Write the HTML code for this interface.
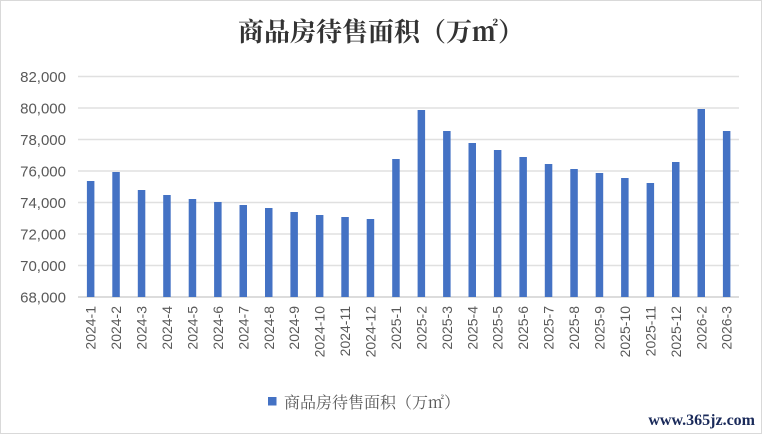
<!DOCTYPE html>
<html><head><meta charset="utf-8"><style>
body{margin:0;background:#fff}
svg{display:block}
</style></head><body>
<svg width="762" height="434" xmlns="http://www.w3.org/2000/svg">
<rect x="0.5" y="0.5" width="761" height="433" fill="#fff" stroke="#d9d9d9"/>
<text x="381" y="41" text-anchor="middle" font-family="Noto Serif CJK SC, serif" font-size="26" font-weight="bold" fill="#333">商品房待售面积（万㎡）</text>
<g stroke="#e0e0e0" stroke-width="1.5">
<line x1="78" x2="739" y1="76.5" y2="76.5"/><line x1="78" x2="739" y1="108" y2="108"/><line x1="78" x2="739" y1="139.5" y2="139.5"/><line x1="78" x2="739" y1="171" y2="171"/><line x1="78" x2="739" y1="202.5" y2="202.5"/><line x1="78" x2="739" y1="234" y2="234"/><line x1="78" x2="739" y1="265.5" y2="265.5"/>
</g>
<line x1="78" x2="739" y1="297" y2="297" stroke="#d0d0d0" stroke-width="1.5"/>
<g font-family="Liberation Sans, sans-serif" font-size="15" fill="#595959" text-anchor="end">
<text x="66" y="82">82,000</text><text x="66" y="113.5">80,000</text><text x="66" y="145">78,000</text><text x="66" y="176.5">76,000</text><text x="66" y="208">74,000</text><text x="66" y="239.5">72,000</text><text x="66" y="271">70,000</text><text x="66" y="302.5">68,000</text>
</g>
<g fill="#4472c4">
<rect x="86.9" y="181" width="7.5" height="116"/>
<rect x="112.3" y="172" width="7.5" height="125"/>
<rect x="137.8" y="190" width="7.5" height="107"/>
<rect x="163.2" y="195" width="7.5" height="102"/>
<rect x="188.7" y="199" width="7.5" height="98"/>
<rect x="214.1" y="202" width="7.5" height="95"/>
<rect x="239.5" y="205" width="7.5" height="92"/>
<rect x="265.0" y="208" width="7.5" height="89"/>
<rect x="290.4" y="212" width="7.5" height="85"/>
<rect x="315.9" y="215" width="7.5" height="82"/>
<rect x="341.3" y="217" width="7.5" height="80"/>
<rect x="366.7" y="219" width="7.5" height="78"/>
<rect x="392.2" y="159" width="7.5" height="138"/>
<rect x="417.6" y="110" width="7.5" height="187"/>
<rect x="443.1" y="131" width="7.5" height="166"/>
<rect x="468.5" y="143" width="7.5" height="154"/>
<rect x="493.9" y="150" width="7.5" height="147"/>
<rect x="519.4" y="157" width="7.5" height="140"/>
<rect x="544.8" y="164" width="7.5" height="133"/>
<rect x="570.3" y="169" width="7.5" height="128"/>
<rect x="595.7" y="173" width="7.5" height="124"/>
<rect x="621.1" y="178" width="7.5" height="119"/>
<rect x="646.6" y="183" width="7.5" height="114"/>
<rect x="672.0" y="162" width="7.5" height="135"/>
<rect x="697.5" y="109" width="7.5" height="188"/>
<rect x="722.9" y="131" width="7.5" height="166"/>
</g>
<g font-family="Liberation Sans, sans-serif" font-size="14" fill="#595959" text-anchor="end">
<text transform="translate(95.7,306) rotate(-90)">2024-1</text>
<text transform="translate(121.1,306) rotate(-90)">2024-2</text>
<text transform="translate(146.6,306) rotate(-90)">2024-3</text>
<text transform="translate(172.0,306) rotate(-90)">2024-4</text>
<text transform="translate(197.5,306) rotate(-90)">2024-5</text>
<text transform="translate(222.9,306) rotate(-90)">2024-6</text>
<text transform="translate(248.3,306) rotate(-90)">2024-7</text>
<text transform="translate(273.8,306) rotate(-90)">2024-8</text>
<text transform="translate(299.2,306) rotate(-90)">2024-9</text>
<text transform="translate(324.7,306) rotate(-90)">2024-10</text>
<text transform="translate(350.1,306) rotate(-90)">2024-11</text>
<text transform="translate(375.5,306) rotate(-90)">2024-12</text>
<text transform="translate(401.0,306) rotate(-90)">2025-1</text>
<text transform="translate(426.4,306) rotate(-90)">2025-2</text>
<text transform="translate(451.9,306) rotate(-90)">2025-3</text>
<text transform="translate(477.3,306) rotate(-90)">2025-4</text>
<text transform="translate(502.7,306) rotate(-90)">2025-5</text>
<text transform="translate(528.2,306) rotate(-90)">2025-6</text>
<text transform="translate(553.6,306) rotate(-90)">2025-7</text>
<text transform="translate(579.1,306) rotate(-90)">2025-8</text>
<text transform="translate(604.5,306) rotate(-90)">2025-9</text>
<text transform="translate(629.9,306) rotate(-90)">2025-10</text>
<text transform="translate(655.4,306) rotate(-90)">2025-11</text>
<text transform="translate(680.8,306) rotate(-90)">2025-12</text>
<text transform="translate(706.3,306) rotate(-90)">2026-2</text>
<text transform="translate(731.7,306) rotate(-90)">2026-3</text>
</g>
<rect x="268" y="397" width="8.5" height="8.5" fill="#4472c4"/>
<text x="284" y="408" font-family="Noto Serif CJK SC, serif" font-size="16" fill="#595959">商品房待售面积（万㎡）</text>
<text x="755" y="425" text-anchor="end" font-family="Liberation Serif, serif" font-size="16" font-weight="bold" fill="#1a2a5a">www.365jz.com</text>
</svg>
</body></html>
